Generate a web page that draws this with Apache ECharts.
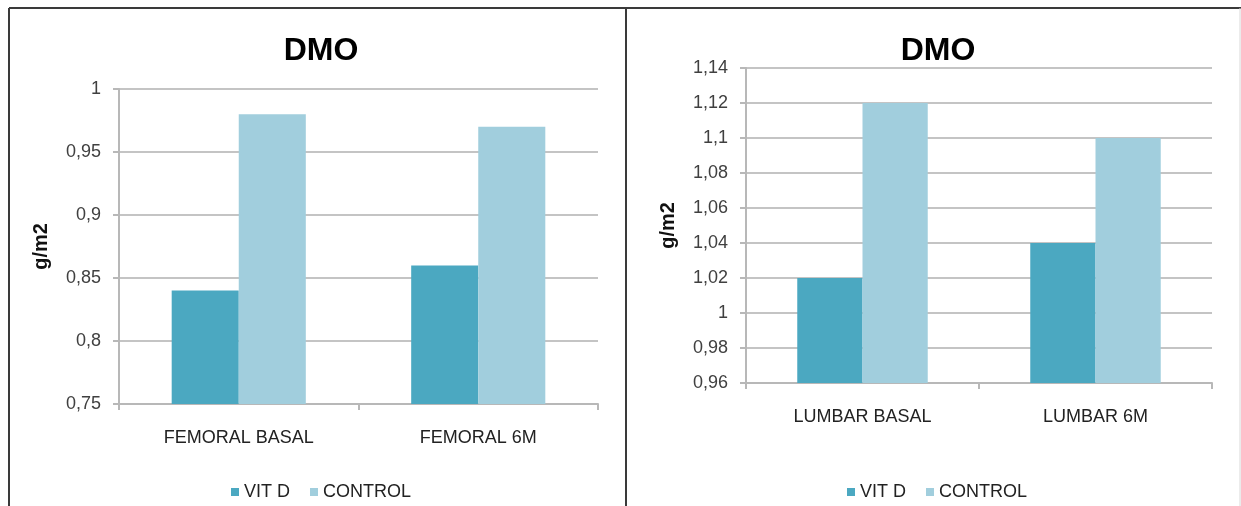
<!DOCTYPE html>
<html>
<head>
<meta charset="utf-8">
<script src="https://cdn.jsdelivr.net/npm/echarts@6/dist/echarts.min.js"></script>
<style>
  html, body { margin: 0; padding: 0; background: #ffffff; }
  #chart { width: 1241px; height: 506px; }
</style>
</head>
<body>
<div id="chart"></div>
<script>
// Bone mineral density (DMO), femoral and lumbar sites
const seriesNames = ['VIT D', 'CONTROL'];
const femoralCategories = ['FEMORAL BASAL', 'FEMORAL 6M'];
const femoralVitD = [0.84, 0.86];
const femoralControl = [0.98, 0.97];
const lumbarCategories = ['LUMBAR BASAL', 'LUMBAR 6M'];
const lumbarVitD = [1.02, 1.04];
const lumbarControl = [1.12, 1.10];
const femoralAxis = { min: 0.75, max: 1.0, interval: 0.05 };
const lumbarAxis = { min: 0.96, max: 1.14, interval: 0.02 };
const chartTitle = 'DMO';
const unitLabel = 'g/m2';

const FONT = "'Liberation Sans', Arial, sans-serif";
const colorVitD = '#4ba8c1';
const colorControl = '#a1cedd';

const decimalComma = v => String(+v.toFixed(2)).replace('.', ',');

function valueAxis(gridIndex, range, gap) {
  return {
    type: 'value', gridIndex,
    min: range.min, max: range.max, interval: range.interval,
    name: unitLabel, nameLocation: 'middle', nameRotate: 90, nameGap: gap,
    nameTextStyle: { fontFamily: FONT, fontWeight: 'bold', fontSize: 20, color: '#111' },
    axisLine: { show: true, lineStyle: { color: '#b8b8b8', width: 2 } },
    axisTick: { show: true, length: 6, lineStyle: { color: '#b8b8b8', width: 2 } },
    axisLabel: { formatter: decimalComma, margin: 18, fontFamily: FONT, fontSize: 18, color: '#404040' },
    splitLine: { lineStyle: { color: '#c4c4c4', width: 2 } }
  };
}

function categoryAxis(gridIndex, cats) {
  return {
    type: 'category', gridIndex, data: cats,
    axisLine: { lineStyle: { color: '#b8b8b8', width: 2 } },
    axisTick: { show: true, length: 6, lineStyle: { color: '#b8b8b8', width: 2 } },
    axisLabel: { margin: 25, fontFamily: FONT, fontSize: 18, color: '#222' }
  };
}

function bars(name, xi, data, color) {
  return {
    type: 'bar', name, xAxisIndex: xi, yAxisIndex: xi, data,
    barWidth: '28%', barGap: '0%',
    itemStyle: { color }, emphasis: { disabled: true }
  };
}

function legend(startX) {
  return {
    data: seriesNames, left: startX, top: 478,
    icon: 'rect', itemWidth: 8, itemHeight: 8, itemGap: 20,
    textStyle: { fontFamily: FONT, fontSize: 18, color: '#222' }
  };
}

const chart = echarts.init(document.getElementById('chart'), null, { renderer: 'canvas' });
chart.setOption({
  animation: false,
  backgroundColor: '#ffffff',
  title: [
    { text: chartTitle, left: 316, top: 30, textAlign: 'center',
      textStyle: { fontFamily: FONT, fontWeight: 'bold', fontSize: 32, color: '#000' } },
    { text: chartTitle, left: 933, top: 30, textAlign: 'center',
      textStyle: { fontFamily: FONT, fontWeight: 'bold', fontSize: 32, color: '#000' } }
  ],
  legend: [legend(226), legend(842)],
  grid: [
    { left: 119, right: 643, top: 89, bottom: 102 },
    { left: 746, right: 29, top: 68, bottom: 123 }
  ],
  xAxis: [categoryAxis(0, femoralCategories), categoryAxis(1, lumbarCategories)],
  yAxis: [valueAxis(0, femoralAxis, 68), valueAxis(1, lumbarAxis, 68)],
  series: [
    bars(seriesNames[0], 0, femoralVitD, colorVitD),
    bars(seriesNames[1], 0, femoralControl, colorControl),
    bars(seriesNames[0], 1, lumbarVitD, colorVitD),
    bars(seriesNames[1], 1, lumbarControl, colorControl)
  ],
  graphic: [
    // panel frame: top edge, left edge, divider, right edge
    { type: 'line', shape: { x1: 9, y1: 8, x2: 1241, y2: 8 }, style: { stroke: '#3a3a3a', lineWidth: 2 } },
    { type: 'line', shape: { x1: 9, y1: 8, x2: 9, y2: 506 }, style: { stroke: '#3a3a3a', lineWidth: 2 } },
    { type: 'line', shape: { x1: 626, y1: 8, x2: 626, y2: 506 }, style: { stroke: '#3a3a3a', lineWidth: 2 } },
    { type: 'line', shape: { x1: 1240, y1: 8, x2: 1240, y2: 506 }, style: { stroke: '#d8d8d8', lineWidth: 1 } }
  ]
});
</script>
</body>
</html>
